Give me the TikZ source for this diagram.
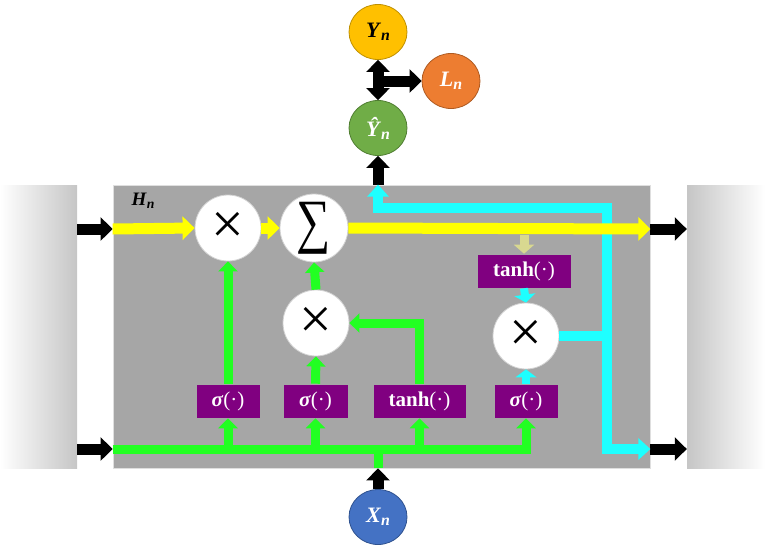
\documentclass[tikz,border=0pt]{standalone}
\usepackage{fontspec}
\setmainfont{Liberation Serif}
\usepackage{graphicx}
\usetikzlibrary{arrows.meta,shapes.geometric}
\newcommand{\bivar}[2]{\textbf{\textit{#1}}\raisebox{-0.3ex}{\scalebox{0.72}{\textbf{\textit{#2}}}}}
\definecolor{boxgray}{HTML}{A6A6A6}
\definecolor{fnpurple}{HTML}{800080}
\definecolor{busgreen}{HTML}{22FF22}
\definecolor{buscyan}{HTML}{1EFFFF}
\definecolor{busyellow}{HTML}{FFFF00}
\definecolor{ynfill}{HTML}{FFC000}
\definecolor{yndraw}{HTML}{BF9000}
\definecolor{lnfill}{HTML}{ED7D31}
\definecolor{lndraw}{HTML}{AE5A21}
\definecolor{yhfill}{HTML}{70AD47}
\definecolor{yhdraw}{HTML}{507E32}
\definecolor{xnfill}{HTML}{4472C4}
\definecolor{xndraw}{HTML}{2F528F}
\definecolor{mixarrow}{HTML}{D8D890}
\begin{document}
\begin{tikzpicture}[x=1pt,y=-1pt,
  opcirc/.style={circle,fill=white,draw=gray!35,line width=0.8pt,minimum size=66pt,inner sep=0pt},
  fnbox/.style={rectangle,fill=fnpurple,draw=gray!70,line width=0.6pt,text=white,inner sep=0pt,minimum height=34pt,font=\fontsize{21}{23}\selectfont},
  varnode/.style={ellipse,line width=0.8pt,minimum width=58pt,minimum height=55pt,inner sep=0pt,font=\fontsize{22}{24}\selectfont},
  panel/.style={rectangle,inner sep=0pt,minimum height=283pt},
  ybus/.style={draw=busyellow,line width=11pt,-{Triangle[width=23pt,length=12pt]}},
  gbus/.style={draw=busgreen,line width=9pt,line join=miter,-{Triangle[width=19pt,length=10pt]}},
  cbus/.style={draw=buscyan,line width=10pt,line join=miter,-{Triangle[width=21pt,length=12pt]}},
  csmall/.style={draw=buscyan,line width=8pt,-{Triangle[width=21pt,length=8pt]}},
  blk/.style={draw=black,line width=11pt,-{Triangle[width=23pt,length=12pt]}},
  blkdbl/.style={draw=black,line width=11pt,{Triangle[width=23pt,length=12pt]}-{Triangle[width=23pt,length=12pt]}},
]
\useasboundingbox (0,0) rectangle (765,549);
% side panels and cell
\node[panel,minimum width=77pt,left color=white,right color=gray!45] (lpanel) at (38.5,326.5) {};
\node[panel,minimum width=78pt,left color=gray!45,right color=white] (rpanel) at (726,326.5) {};
\node[rectangle,fill=boxgray,draw=gray!25,line width=0.8pt,inner sep=0pt,minimum width=537pt,minimum height=283pt] (cell) at (381.5,326.5) {};
\node[font=\fontsize{19}{21}\selectfont] (hn) at (143,201) {\bivar{H}{n}};
% helper coordinates
\coordinate (htop) at (0,229);
\coordinate (hbot) at (0,449);
\coordinate (ctop) at (0,208);
\coordinate (cj) at (607,336);
% operation circles
\node[opcirc,font=\fontsize{58}{60}\selectfont] (m1) at (228,228) {×};
\node[opcirc,minimum size=68pt,font=\fontsize{48}{50}\selectfont] (sum) at (314,228) {\scalebox{1}[1.25]{∑}};
\node[opcirc,font=\fontsize{58}{60}\selectfont] (m2) at (316,323) {×};
\node[opcirc,font=\fontsize{58}{60}\selectfont] (m3) at (526,336) {×};
% function boxes
\node[fnbox,minimum width=64pt] (s1) at (228,401) {\textbf{\textit{σ}}(·)};
\node[fnbox,minimum width=65pt] (s2) at (315.5,401) {\textbf{\textit{σ}}(·)};
\node[fnbox,minimum width=93pt] (t2) at (419.5,401) {\textbf{tanh}(·)};
\node[fnbox,minimum width=64pt] (s3) at (526,401) {\textbf{\textit{σ}}(·)};
\node[fnbox,minimum width=94pt] (t1) at (524,271) {\textbf{tanh}(·)};
% variables
\node[varnode,fill=ynfill,draw=yndraw] (yn) at (378,32) {\bivar{Y}{n}};
\node[varnode,fill=lnfill,draw=lndraw,text=white] (ln) at (451,81) {\bivar{L}{n}};
\node[varnode,fill=yhfill,draw=yhdraw,text=white] (yhat) at (378,128) {\bivar{Ŷ}{n}};
\node[varnode,fill=xnfill,draw=xndraw,text=white] (xn) at (378,517) {\bivar{X}{n}};
% black external arrows
\draw[blk] (lpanel.east |- htop) -- (cell.west |- htop);
\draw[blk] (lpanel.east |- hbot) -- (cell.west |- hbot);
\draw[blk] (cell.east |- htop) -- (rpanel.west |- htop);
\draw[blk] (cell.east |- hbot) -- (rpanel.west |- hbot);
\draw[blk] (xn.north) -- (xn.north |- cell.south);
\draw[blk] (yhat |- cell.north) -- (yhat.south);
\draw[blkdbl] (yn.south) -- (yhat.north);
\draw[blk] (yn |- ln) -- (ln.west);
% green input bus
\draw[gbus,-] (xn.north |- cell.south) -- (xn.north |- hbot);
\draw[gbus] (cell.west |- hbot) -- (s3.south |- hbot) -- (s3.south);
\draw[gbus] (s1.south |- hbot) -- (s1.south);
\draw[gbus] (s2.south |- hbot) -- (s2.south);
\draw[gbus] (t2.south |- hbot) -- (t2.south);
\draw[gbus] (s1.north) -- (m1.south);
\draw[gbus] (s2.north) -- (m2.south);
\draw[gbus] (m2.north) -- (sum.south);
\draw[gbus] (t2.north) -- (t2.north |- m2) -- (m2.east);
% cyan output paths
\draw[csmall] (t1.south) -- (m3.north);
\draw[csmall] (s3.north) -- (m3.south);
\draw[cbus,-] (m3.east) -- (cj);
\draw[cbus] (cj) -- (cj |- ctop) -- (yhat |- ctop) -- (yhat |- cell.north);
\draw[cbus] (cj) -- (cj |- hbot) -- (cell.east |- hbot);
% yellow cell state
\draw[ybus] (cell.west |- htop) -- (m1.west);
\draw[ybus] (m1.east) -- (sum.west);
\draw[ybus] (sum.east) -- (cell.east |- htop);
\draw[draw=mixarrow,line width=9pt,-{Triangle[width=20pt,length=9pt]}] (t1.north |- {0,235}) -- (t1.north);
\end{tikzpicture}
\end{document}
